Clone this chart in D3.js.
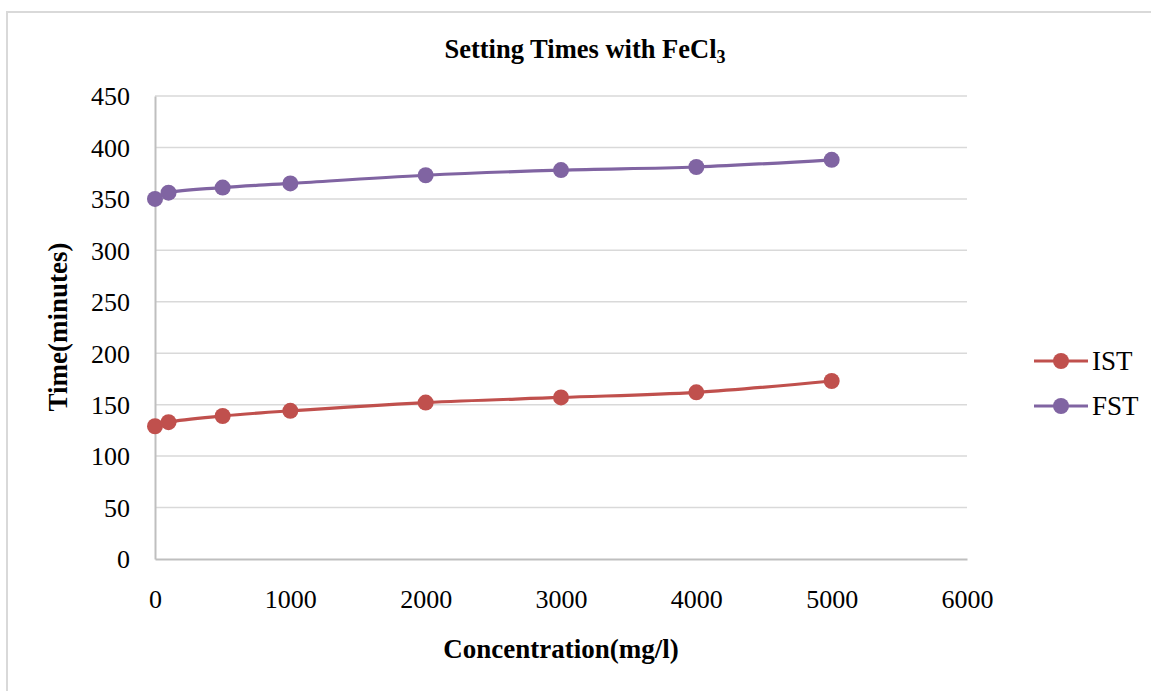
<!DOCTYPE html>
<html><head><meta charset="utf-8">
<script src="https://cdn.jsdelivr.net/npm/d3@7"></script>
<style>body{margin:0;background:#fff}svg{display:block}</style>
</head><body>
<svg id="c" width="1151" height="691"></svg>
<script>
const concentrations = [0, 100, 500, 1000, 2000, 3000, 4000, 5000];
const istValues = [129, 133, 139, 144, 152, 157, 162, 173];
const fstValues = [350, 356, 361, 365, 373, 378, 381, 388];
const seriesNames = ["IST", "FST"];
const seriesColors = ["#C0504D", "#8064A2"];
const xTicks = [0, 1000, 2000, 3000, 4000, 5000, 6000];
const yTicks = [0, 50, 100, 150, 200, 250, 300, 350, 400, 450];

const svg = d3.select("#c");
const font = "'Liberation Serif','Times New Roman',serif";
const L = 155, R = 967, T = 96, B = 559;
const x = d3.scaleLinear().domain([0, 6000]).range([L, R]);
const y = d3.scaleLinear().domain([0, 450]).range([B, T]);

// outer border
svg.append("rect").attr("x", 7).attr("y", 12).attr("width", 1160).attr("height", 700)
  .attr("fill", "none").attr("stroke", "#d9d9d9").attr("stroke-width", 2);

// gridlines
svg.append("g").selectAll("line").data(yTicks.filter(d => d > 0)).join("line")
  .attr("x1", L).attr("x2", R).attr("y1", d => y(d)).attr("y2", d => y(d))
  .attr("stroke", "#d9d9d9").attr("stroke-width", 1.5);

// axes
const yAxis = svg.append("g").attr("transform", `translate(${L},0)`)
  .call(d3.axisLeft(y).tickValues(yTicks).tickSize(0).tickPadding(25).tickFormat(d3.format("d")));
const xAxis = svg.append("g").attr("transform", `translate(0,${B})`)
  .call(d3.axisBottom(x).tickValues(xTicks).tickSize(0).tickFormat(d3.format("d")));
[yAxis, xAxis].forEach(a => {
  a.attr("font-family", font).attr("font-size", 26);
  a.select(".domain").attr("stroke", "#bfbfbf").attr("stroke-width", 2);
  a.selectAll("text").attr("fill", "#000");
});
yAxis.selectAll("text").attr("dy", "0.34em");
xAxis.selectAll("text").attr("y", 49).attr("dy", 0);

// series
const series = [istValues, fstValues];
const line = d3.line().x((d, i) => x(concentrations[i])).y(d => y(d)).curve(d3.curveCatmullRom.alpha(0.5));
series.forEach((vals, s) => {
  const g = svg.append("g");
  g.append("path").attr("d", line(vals)).attr("fill", "none")
    .attr("stroke", seriesColors[s]).attr("stroke-width", 3.2).attr("stroke-linecap", "round");
  g.selectAll("circle").data(vals).join("circle")
    .attr("cx", (d, i) => x(concentrations[i])).attr("cy", d => y(d)).attr("r", 8)
    .attr("fill", seriesColors[s]);
});

// legend
const legY = [361, 406];
seriesNames.forEach((n, s) => {
  const g = svg.append("g");
  g.append("line").attr("x1", 1034).attr("x2", 1088).attr("y1", legY[s]).attr("y2", legY[s])
    .attr("stroke", seriesColors[s]).attr("stroke-width", 3.2);
  g.append("circle").attr("cx", 1061).attr("cy", legY[s]).attr("r", 8).attr("fill", seriesColors[s]);
  g.append("text").attr("x", 1092).attr("y", legY[s]).attr("dy", "0.34em")
    .attr("font-family", font).attr("font-size", 27).text(n);
});

// title
const title = svg.append("text").attr("x", 585).attr("y", 58).attr("text-anchor", "middle")
  .attr("font-family", font).attr("font-size", 26.5).attr("font-weight", "bold");
title.append("tspan").text("Setting Times with FeCl");
title.append("tspan").attr("font-size", 18).attr("dy", 5).text("3");

// axis titles
svg.append("text").attr("transform", "translate(67,327) rotate(-90)").attr("text-anchor", "middle")
  .attr("font-family", font).attr("font-size", 27).attr("font-weight", "bold").text("Time(minutes)");
svg.append("text").attr("x", 561).attr("y", 658).attr("text-anchor", "middle")
  .attr("font-family", font).attr("font-size", 27).attr("font-weight", "bold").text("Concentration(mg/l)");
</script>
</body></html>
